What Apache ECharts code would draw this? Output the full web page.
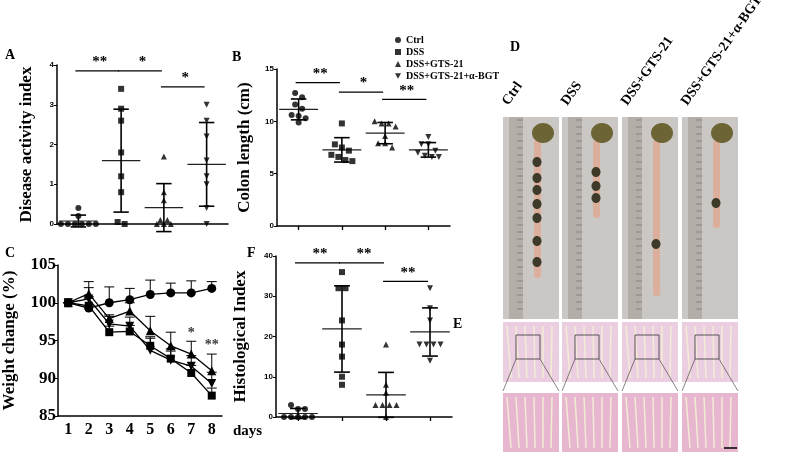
<!DOCTYPE html>
<html><head><meta charset="utf-8">
<script src="https://cdn.jsdelivr.net/npm/echarts@6/dist/echarts.min.js"></script>
<style>html,body{margin:0;background:#fff}#c{width:787px;height:455px}</style>
</head><body><div id="c"></div>
<script>
const groups = ['Ctrl', 'DSS', 'DSS+GTS-21', 'DSS+GTS-21+α-BGT']
const shapes = ['circle', 'rect', 'triangle', 'path://M0,0L10,0L5,9Z']

// A: disease activity index
const daiCtrl = [0.4, 0.2, 0, 0, 0, 0, 0, 0]
const daiDss = [3.4, 2.9, 2.6, 1.8, 1.2, 0.8, 0.05, 0]
const daiGts = [1.7, 0.8, 0.6, 0.1, 0.1, 0, 0, 0]
const daiBgt = [3.0, 2.6, 2.2, 1.6, 1.2, 1.0, 0.4, 0]
const daiSig = [[0, 1, 3.85, '**'], [1, 2, 3.85, '*'], [2, 3, 3.45, '*']]

// B: colon length
const colCtrl = [12.7, 12.3, 11.6, 11.2, 10.6, 10.5, 10.3, 9.9]
const colDss = [9.8, 7.8, 7.5, 7.2, 6.8, 6.6, 6.3, 6.2]
const colGts = [10.0, 9.8, 9.8, 9.5, 8.6, 7.9, 7.9, 7.5]
const colBgt = [8.5, 7.8, 7.8, 7.2, 7.0, 6.7, 6.6, 6.6]
const colSig = [[0, 1, 13.7, '**'], [1, 2, 12.8, '*'], [2, 3, 12.1, '**']]

// C: weight change
const days = ['1', '2', '3', '4', '5', '6', '7', '8']
const wCtrl = [100, 99.3, 100, 100.4, 101.1, 101.3, 101.3, 101.9]
const wDss = [100, 99.6, 96.1, 96.2, 94.3, 92.6, 90.7, 87.7]
const wGts = [100, 101.2, 97.9, 98.9, 96.3, 94.3, 93.2, 91.0]
const wBgt = [100, 100.5, 97.2, 96.9, 93.7, 92.4, 91.6, 89.3]
const eCtrl = [0, 1.5, 2.1, 1.5, 1.9, 1.3, 1.6, 0.9]
const eDss = [0, 1.0, 0.8, 0.8, 1.0, 1.0, 1.0, 1.0]
const eGts = [0, 1.6, 0.5, 1.1, 1.9, 1.8, 1.7, 2.2]
const eBgt = [0, 1.5, 1.0, 1.2, 1.8, 1.5, 1.4, 1.5]
const wStars = [['7', 95.9, '*'], ['8', 94.3, '**']]

// F: histological index
const hisCtrl = [3, 2, 2, 0, 0, 0, 0, 0]
const hisDss = [36, 32, 32, 24, 18, 15, 10, 8]
const hisGts = [18, 8, 6, 3, 3, 3, 3, 0]
const hisBgt = [32, 27, 24, 18, 18, 18, 18, 14]
const hisSig = [[0, 1, 38.3, '**'], [1, 2, 38.3, '**'], [2, 3, 33.7, '**']]

const serif = 'Liberation Serif'
const stat = (a) => {
  const m = a.reduce((s, v) => s + v, 0) / a.length
  const sd = Math.sqrt(a.reduce((s, v) => s + (v - m) * (v - m), 0) / (a.length - 1))
  return [m, sd]
}

// spread points with (nearly) equal values sideways
function swarm(vals, tol) {
  const out = []
  let i = 0
  while (i < vals.length) {
    let j = i
    while (j + 1 < vals.length && Math.abs(vals[j + 1] - vals[i]) <= tol) j++
    const n = j - i + 1
    for (let k = i; k <= j; k++) out.push({ v: vals[k], off: (k - i - (n - 1) / 2) * 7 })
    i = j + 1
  }
  return out
}

function dotPanel(idx, data, sig, tol) {
  const series = []
  data.forEach((vals, g) => {
    series.push({
      name: groups[g], type: 'scatter', xAxisIndex: idx, yAxisIndex: idx,
      symbol: shapes[g], symbolSize: 6, itemStyle: { color: '#000' },
      data: swarm(vals, tol).map((p) => ({ value: [g, p.v], symbolOffset: [p.off, 0] }))
    })
  })
  series.push({
    type: 'custom', xAxisIndex: idx, yAxisIndex: idx, silent: true,
    data: data.map((vals, g) => { const [m, sd] = stat(vals); return [g, m, m - sd, m + sd] }),
    renderItem: (params, api) => {
      const bw = api.size([1, 0])[0]
      const c = api.coord([api.value(0), api.value(1)])
      const lo = api.coord([api.value(0), api.value(2)])
      const hi = api.coord([api.value(0), api.value(3)])
      const st = { stroke: '#000', lineWidth: 1.6 }
      return { type: 'group', children: [
        { type: 'line', shape: { x1: c[0] - bw * 0.45, y1: c[1], x2: c[0] + bw * 0.45, y2: c[1] }, style: { stroke: '#222', lineWidth: 1.2 } },
        { type: 'line', shape: { x1: c[0], y1: lo[1], x2: c[0], y2: hi[1] }, style: st },
        { type: 'line', shape: { x1: c[0] - bw * 0.18, y1: lo[1], x2: c[0] + bw * 0.18, y2: lo[1] }, style: st },
        { type: 'line', shape: { x1: c[0] - bw * 0.18, y1: hi[1], x2: c[0] + bw * 0.18, y2: hi[1] }, style: st }
      ] }
    }
  })
  series.push({
    type: 'custom', xAxisIndex: idx, yAxisIndex: idx, silent: true, data: sig,
    renderItem: (params, api) => {
      const a = api.coord([api.value(0), api.value(2)])
      const b = api.coord([api.value(1), api.value(2)])
      return { type: 'group', children: [
        { type: 'line', shape: { x1: a[0] - 3, y1: a[1], x2: b[0] - 2, y2: b[1] }, style: { stroke: '#000', lineWidth: 1.2 } },
        { type: 'text', x: (a[0] + b[0]) / 2, y: a[1] - 1, style: { text: sig[params.dataIndex][3], font: 'bold 15px ' + serif, fill: '#000', align: 'center', verticalAlign: 'bottom' } }
      ] }
    }
  })
  return series
}

function lineSeries(vals, errs, g) {
  return [{
    name: groups[g], type: 'line', xAxisIndex: 2, yAxisIndex: 2, data: vals,
    symbol: shapes[g], symbolSize: g === 1 ? 8 : 9, lineStyle: { color: '#000', width: 1.3 },
    itemStyle: { color: '#000' }, z: 3
  }, {
    type: 'custom', xAxisIndex: 2, yAxisIndex: 2, silent: true,
    data: vals.map((v, i) => [i, v, v + errs[i]]),
    renderItem: (params, api) => {
      const a = api.coord([api.value(0), api.value(1)])
      const b = api.coord([api.value(0), api.value(2)])
      return { type: 'group', children: [
        { type: 'line', shape: { x1: a[0], y1: a[1], x2: b[0], y2: b[1] }, style: { stroke: '#000', lineWidth: 1 } },
        { type: 'line', shape: { x1: b[0] - 5, y1: b[1], x2: b[0] + 5, y2: b[1] }, style: { stroke: '#000', lineWidth: 1 } }
      ] }
    }
  }]
}

const axLine = { lineStyle: { color: '#000', width: 1.5 } }
const catX = (i, show) => ({
  type: 'category', gridIndex: i, data: [0, 1, 2, 3], axisLine: axLine,
  axisTick: { show, alignWithLabel: true, length: 4, lineStyle: { width: 1.3 } }, axisLabel: { show: false }
})
const valY = (i, max, iv, name, gap) => ({
  type: 'value', gridIndex: i, min: 0, max, interval: iv, axisLine: { show: true, ...axLine },
  axisTick: { show: true, length: 3 }, splitLine: { show: false },
  axisLabel: { fontSize: 8, fontWeight: 'bold', color: '#000', margin: 3, fontFamily: 'Arial' },
  name, nameLocation: 'middle', nameGap: gap,
  nameTextStyle: { fontFamily: serif, fontWeight: 'bold', fontSize: 17, color: '#000' }
})

// photo panels (D) and histology (E)
const gfx = []
const px = [503, 562, 622, 682]
const colonEnd = [278, 218, 296, 228]
const pellets = [[162, 178, 190, 204, 218, 241, 262], [172, 186, 198], [244], [203]]
px.forEach((x, i) => {
  gfx.push({ type: 'rect', shape: { x, y: 117, width: 56, height: 202 }, style: { fill: '#cac7c4' } })
  gfx.push({ type: 'rect', shape: { x: x + 6, y: 117, width: 14, height: 202 }, style: { fill: '#b3aea8' } })
  for (let k = 0; k < 28; k++) {
    gfx.push({ type: 'line', shape: { x1: x + 14, y1: 120 + k * 7, x2: x + 20, y2: 120 + k * 7 }, style: { stroke: '#6f6a66', lineWidth: 0.6 } })
  }
  const cx = x + 34
  gfx.push({ type: 'rect', shape: { x: cx - 3, y: 140, width: 7, height: colonEnd[i] - 140, r: 3 }, style: { fill: '#dcae9c' } })
  gfx.push({ type: 'ellipse', shape: { cx: cx + 6, cy: 133, rx: 11, ry: 10 }, style: { fill: '#6d6436' } })
  pellets[i].forEach((y) => gfx.push({ type: 'ellipse', shape: { cx, cy: y, rx: 4.5, ry: 5 }, style: { fill: '#3d3a2a' } }))
  // histology
  ;[[322, 60], [393, 59]].forEach(([y, h], r) => {
    gfx.push({ type: 'rect', shape: { x, y, width: 56, height: h }, style: { fill: r ? '#e6b7cf' : '#ebcfe0' } })
    for (let k = 0; k < 6; k++) {
      gfx.push({ type: 'line', shape: { x1: x + 4 + k * 9, y1: y + 4, x2: x + 8 + k * 8, y2: y + h - 4 }, style: { stroke: '#f3ecd5', lineWidth: 1.5 } })
    }
  })
  gfx.push({ type: 'rect', shape: { x: x + 13, y: 335, width: 24, height: 24 }, style: { fill: 'none', stroke: '#333', lineWidth: 0.8 } })
  gfx.push({ type: 'line', shape: { x1: x + 13, y1: 359, x2: x, y2: 391 }, style: { stroke: '#333', lineWidth: 0.6 } })
  gfx.push({ type: 'line', shape: { x1: x + 37, y1: 359, x2: x + 56, y2: 391 }, style: { stroke: '#333', lineWidth: 0.6 } })
  gfx.push({ type: 'text', x: x + 8, y: 108, rotation: 55 * Math.PI / 180,
    style: { text: groups[i], font: 'bold 14px ' + serif, fill: '#000', align: 'left', verticalAlign: 'bottom' } })
})
gfx.push({ type: 'line', shape: { x1: 724, y1: 448, x2: 737, y2: 448 }, style: { stroke: '#000', lineWidth: 1.5 } })
const letters = [['A', 5, 48], ['B', 232, 50], ['C', 5, 246], ['F', 247, 246], ['D', 510, 40], ['E', 453, 317]]
letters.forEach(([t, x, y]) => gfx.push({ type: 'text', x, y, style: { text: t, font: 'bold 14px ' + serif, fill: '#000' } }))
gfx.push({ type: 'text', x: 233, y: 424, style: { text: 'days', font: 'bold 15px ' + serif, fill: '#000' } })

const option = {
  animation: false,
  textStyle: { fontFamily: serif },
  graphic: gfx,
  legend: {
    data: groups.map((n, i) => ({ name: n, icon: shapes[i] })), orient: 'vertical',
    left: 390, top: 30, itemWidth: 6, itemHeight: 6, itemGap: 2,
    textStyle: { fontFamily: serif, fontWeight: 'bold', fontSize: 10, color: '#000' },
    itemStyle: { color: '#000' }
  },
  grid: [
    { left: 57, top: 65, width: 171, height: 159 },
    { left: 277, top: 69, width: 173, height: 157 },
    { left: 55, top: 265, width: 167, height: 151 },
    { left: 276, top: 256, width: 176, height: 161 }
  ],
  xAxis: [catX(0, false), catX(1, true), {
    type: 'category', gridIndex: 2, data: days, axisLine: axLine,
    axisTick: { alignWithLabel: true, length: 4, lineStyle: { width: 1.3 } },
    axisLabel: { fontFamily: serif, fontWeight: 'bold', fontSize: 16, color: '#000', margin: 6 }
  }, catX(3, true)],
  yAxis: [
    valY(0, 4, 1, 'Disease activity index', 22),
    valY(1, 15, 5, 'Colon length (cm)', 24),
    {
      type: 'value', gridIndex: 2, min: 85, max: 105, interval: 5, axisLine: { show: true, ...axLine },
      axisTick: { show: true, length: 4 }, splitLine: { show: false },
      axisLabel: { fontFamily: serif, fontWeight: 'bold', fontSize: 17, color: '#000', margin: 2 },
      name: 'Weight change (%)', nameLocation: 'middle', nameGap: 40,
      nameTextStyle: { fontFamily: serif, fontWeight: 'bold', fontSize: 17, color: '#000' }
    },
    valY(3, 40, 10, 'Histological Index', 27)
  ],
  series: [
    ...dotPanel(0, [daiCtrl, daiDss, daiGts, daiBgt], daiSig, 0.06),
    ...dotPanel(1, [colCtrl, colDss, colGts, colBgt], colSig, 0.6),
    ...lineSeries(wCtrl, eCtrl, 0), ...lineSeries(wDss, eDss, 1),
    ...lineSeries(wGts, eGts, 2), ...lineSeries(wBgt, eBgt, 3),
    {
      type: 'scatter', xAxisIndex: 2, yAxisIndex: 2, symbolSize: 0, data: wStars,
      label: { show: true, formatter: (p) => p.data[2], fontSize: 14, fontWeight: 'bold', color: '#000', position: 'inside' }
    },
    ...dotPanel(3, [hisCtrl, hisDss, hisGts, hisBgt], hisSig, 1.5)
  ]
}
echarts.init(document.getElementById('c')).setOption(option)
</script></body></html>
